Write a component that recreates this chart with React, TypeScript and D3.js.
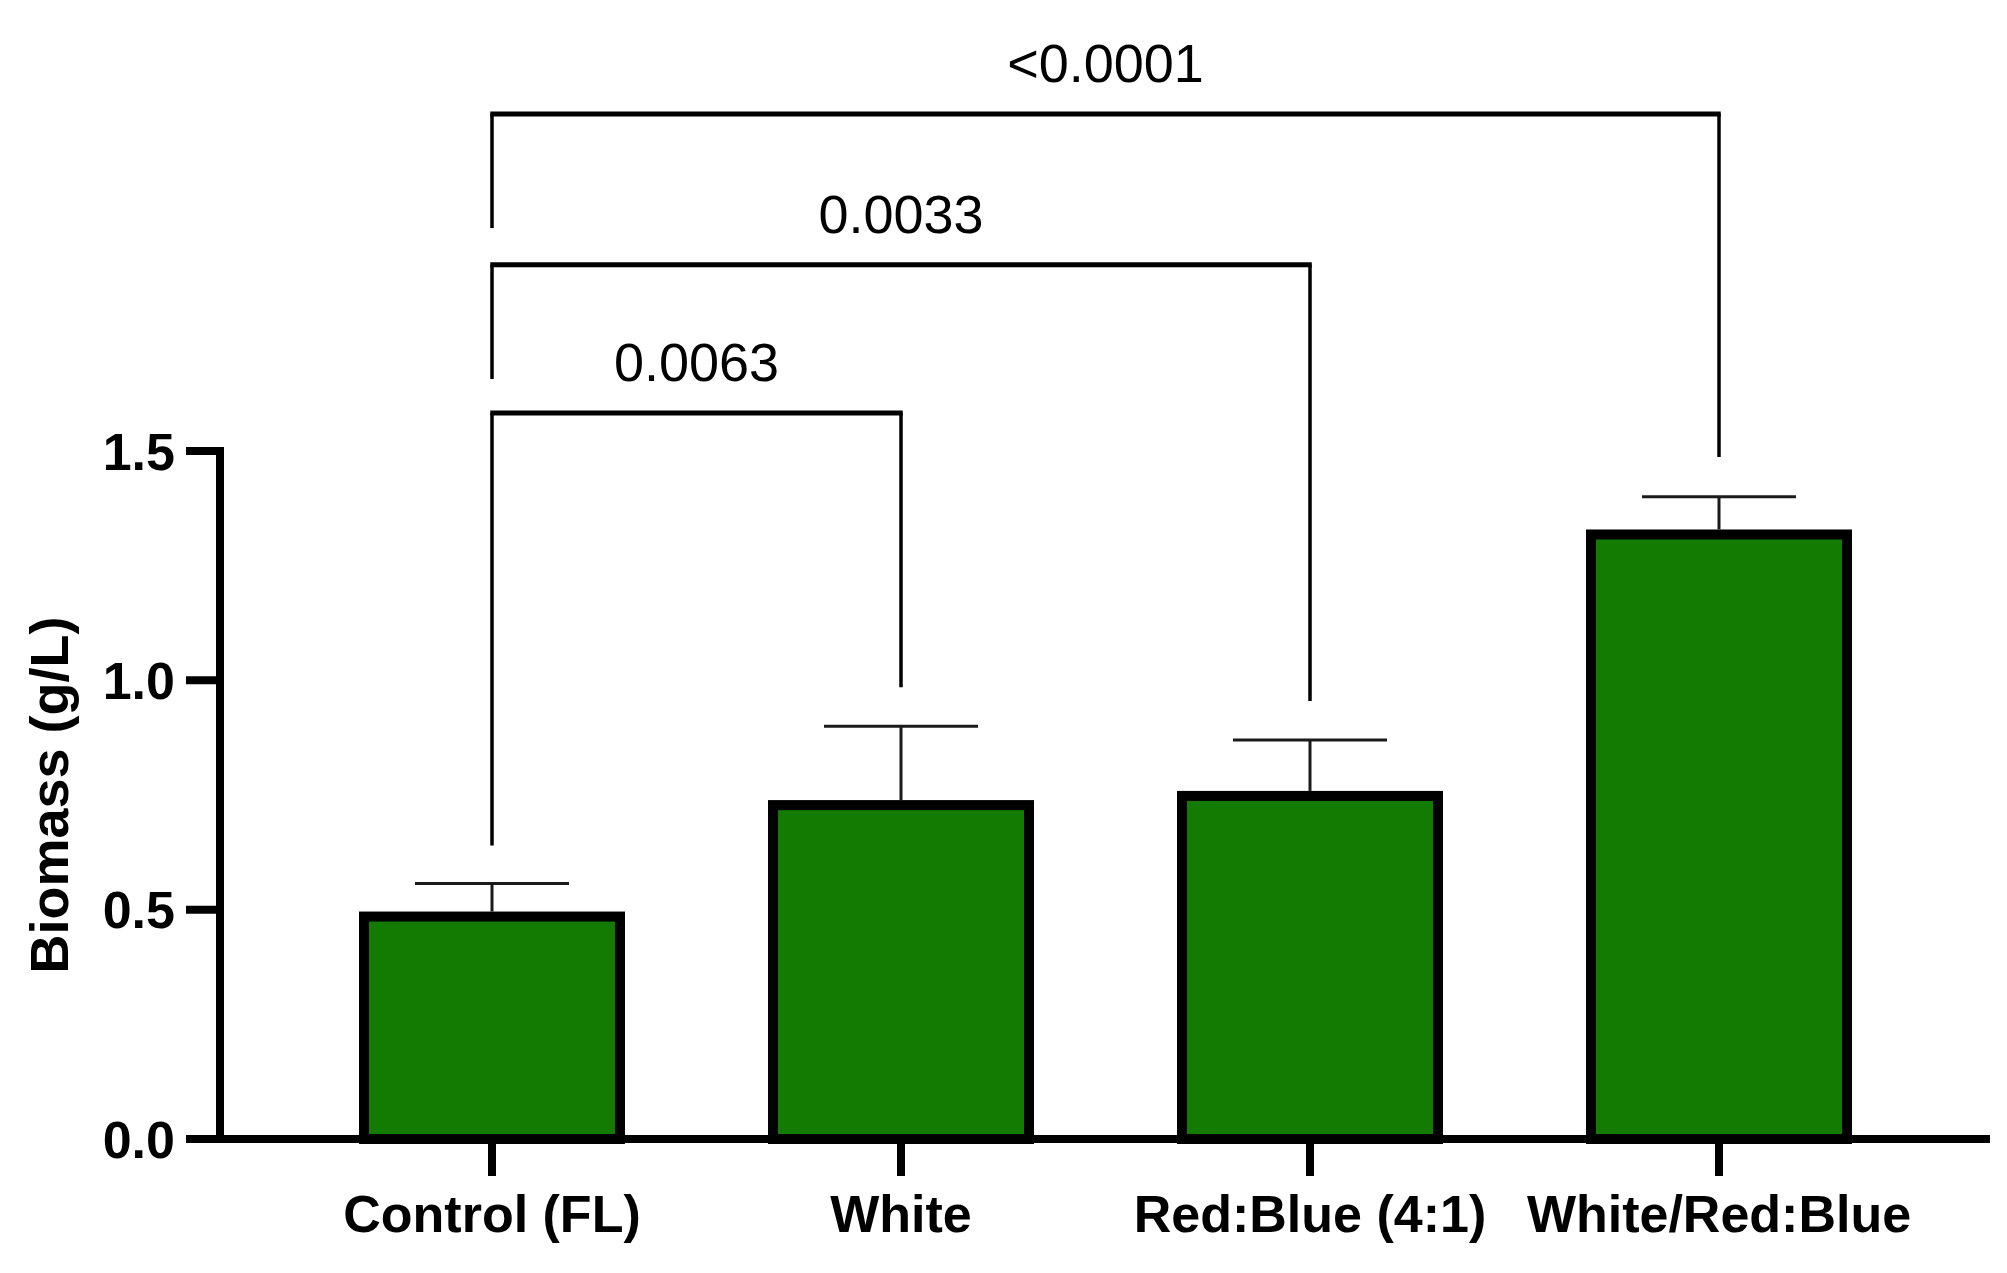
import React from "react";
import * as d3 from "d3";

const categories = ["Control (FL)", "White", "Red:Blue (4:1)", "White/Red:Blue"];
const means = [0.485, 0.728, 0.748, 1.318];
const sds = [0.072, 0.172, 0.122, 0.082];
const yTicks = [0.0, 0.5, 1.0, 1.5];
const yTickLabels = ["0.0", "0.5", "1.0", "1.5"];

// significance brackets: from group index, to group index, label, bracket level, left leg end, right leg end (data units)
const bracketFrom = [0, 0, 0];
const bracketTo = [1, 2, 3];
const bracketLabels = ["0.0063", "0.0033", "<0.0001"];
const bracketLevels = [1.583, 1.906, 2.235];
const bracketLeftEnds = [0.64, 1.657, 1.986];
const bracketRightEnds = [0.985, 0.955, 1.487];

const W = 2007;
const H = 1273;

export default function App() {
  const y = d3.scaleLinear().domain([0, 1.5]).range([1139, 451]);
  const x = d3.scalePoint<string>().domain(categories).range([287.5, 1923.5]).padding(0.5);
  const barW = 266;
  const capW = 154;
  const axisX = 220;
  const font = "'Liberation Sans', Arial, Helvetica, sans-serif";

  return (
    <svg
      width={W}
      height={H}
      viewBox={`0 0 ${W} ${H}`}
      style={{ position: "absolute", left: 0, top: 0, display: "block", background: "#fff" }}
    >
      {/* bars */}
      {categories.map((c, i) => {
        const cx = x(c)!;
        return (
          <rect
            key={c}
            x={cx - barW / 2 + 5}
            y={y(means[i])}
            width={barW - 10}
            height={y(0) - y(means[i])}
            fill="#137b02"
            stroke="#000"
            strokeWidth={10}
          />
        );
      })}
      {/* error bars (upper) */}
      {categories.map((c, i) => {
        const cx = x(c)!;
        const top = y(means[i] + sds[i]);
        return (
          <g key={"e" + c} stroke="#1a1a1a" strokeWidth={3}>
            <line x1={cx} x2={cx} y1={y(means[i]) - 5} y2={top} />
            <line x1={cx - capW / 2} x2={cx + capW / 2} y1={top} y2={top} />
          </g>
        );
      })}
      {/* y axis */}
      <line x1={axisX} x2={axisX} y1={y(1.5) - 4} y2={y(0) + 4} stroke="#000" strokeWidth={8} />
      {yTicks.map((t, i) => (
        <g key={"yt" + t}>
          <line x1={186} x2={axisX} y1={y(t)} y2={y(t)} stroke="#000" strokeWidth={8} />
          <text
            x={175}
            y={y(t)}
            dy="0.36em"
            textAnchor="end"
            fontFamily={font}
            fontWeight="bold"
            fontSize={52}
            fill="#000"
          >
            {yTickLabels[i]}
          </text>
        </g>
      ))}
      {/* x axis */}
      <line x1={186} x2={1990} y1={y(0)} y2={y(0)} stroke="#000" strokeWidth={8} />
      {categories.map((c) => (
        <g key={"xt" + c}>
          <line x1={x(c)!} x2={x(c)!} y1={y(0)} y2={1176} stroke="#000" strokeWidth={8} />
          <text
            x={x(c)!}
            y={1232}
            textAnchor="middle"
            fontFamily={font}
            fontWeight="bold"
            fontSize={52}
            fill="#000"
          >
            {c}
          </text>
        </g>
      ))}
      {/* y title */}
      <text
        transform={`translate(68, ${y(0.75) - 0}) rotate(-90)`}
        textAnchor="middle"
        fontFamily={font}
        fontWeight="bold"
        fontSize={54}
        fill="#000"
      >
        Biomass (g/L)
      </text>
      {/* significance brackets */}
      {bracketLabels.map((lab, i) => {
        const x1 = x(categories[bracketFrom[i]])!;
        const x2 = x(categories[bracketTo[i]])!;
        const yl = y(bracketLevels[i]);
        return (
          <g key={"b" + i}>
            <line x1={x1} x2={x1} y1={yl} y2={y(bracketLeftEnds[i])} stroke="#000" strokeWidth={3.5} />
            <line x1={x2} x2={x2} y1={yl} y2={y(bracketRightEnds[i])} stroke="#000" strokeWidth={3.5} />
            <line x1={x1 - 1.75} x2={x2 + 1.75} y1={yl} y2={yl} stroke="#000" strokeWidth={5} />
            <text
              x={(x1 + x2) / 2}
              y={yl - 32}
              textAnchor="middle"
              fontFamily={font}
              fontSize={54}
              fill="#000"
            >
              {lab}
            </text>
          </g>
        );
      })}
    </svg>
  );
}
